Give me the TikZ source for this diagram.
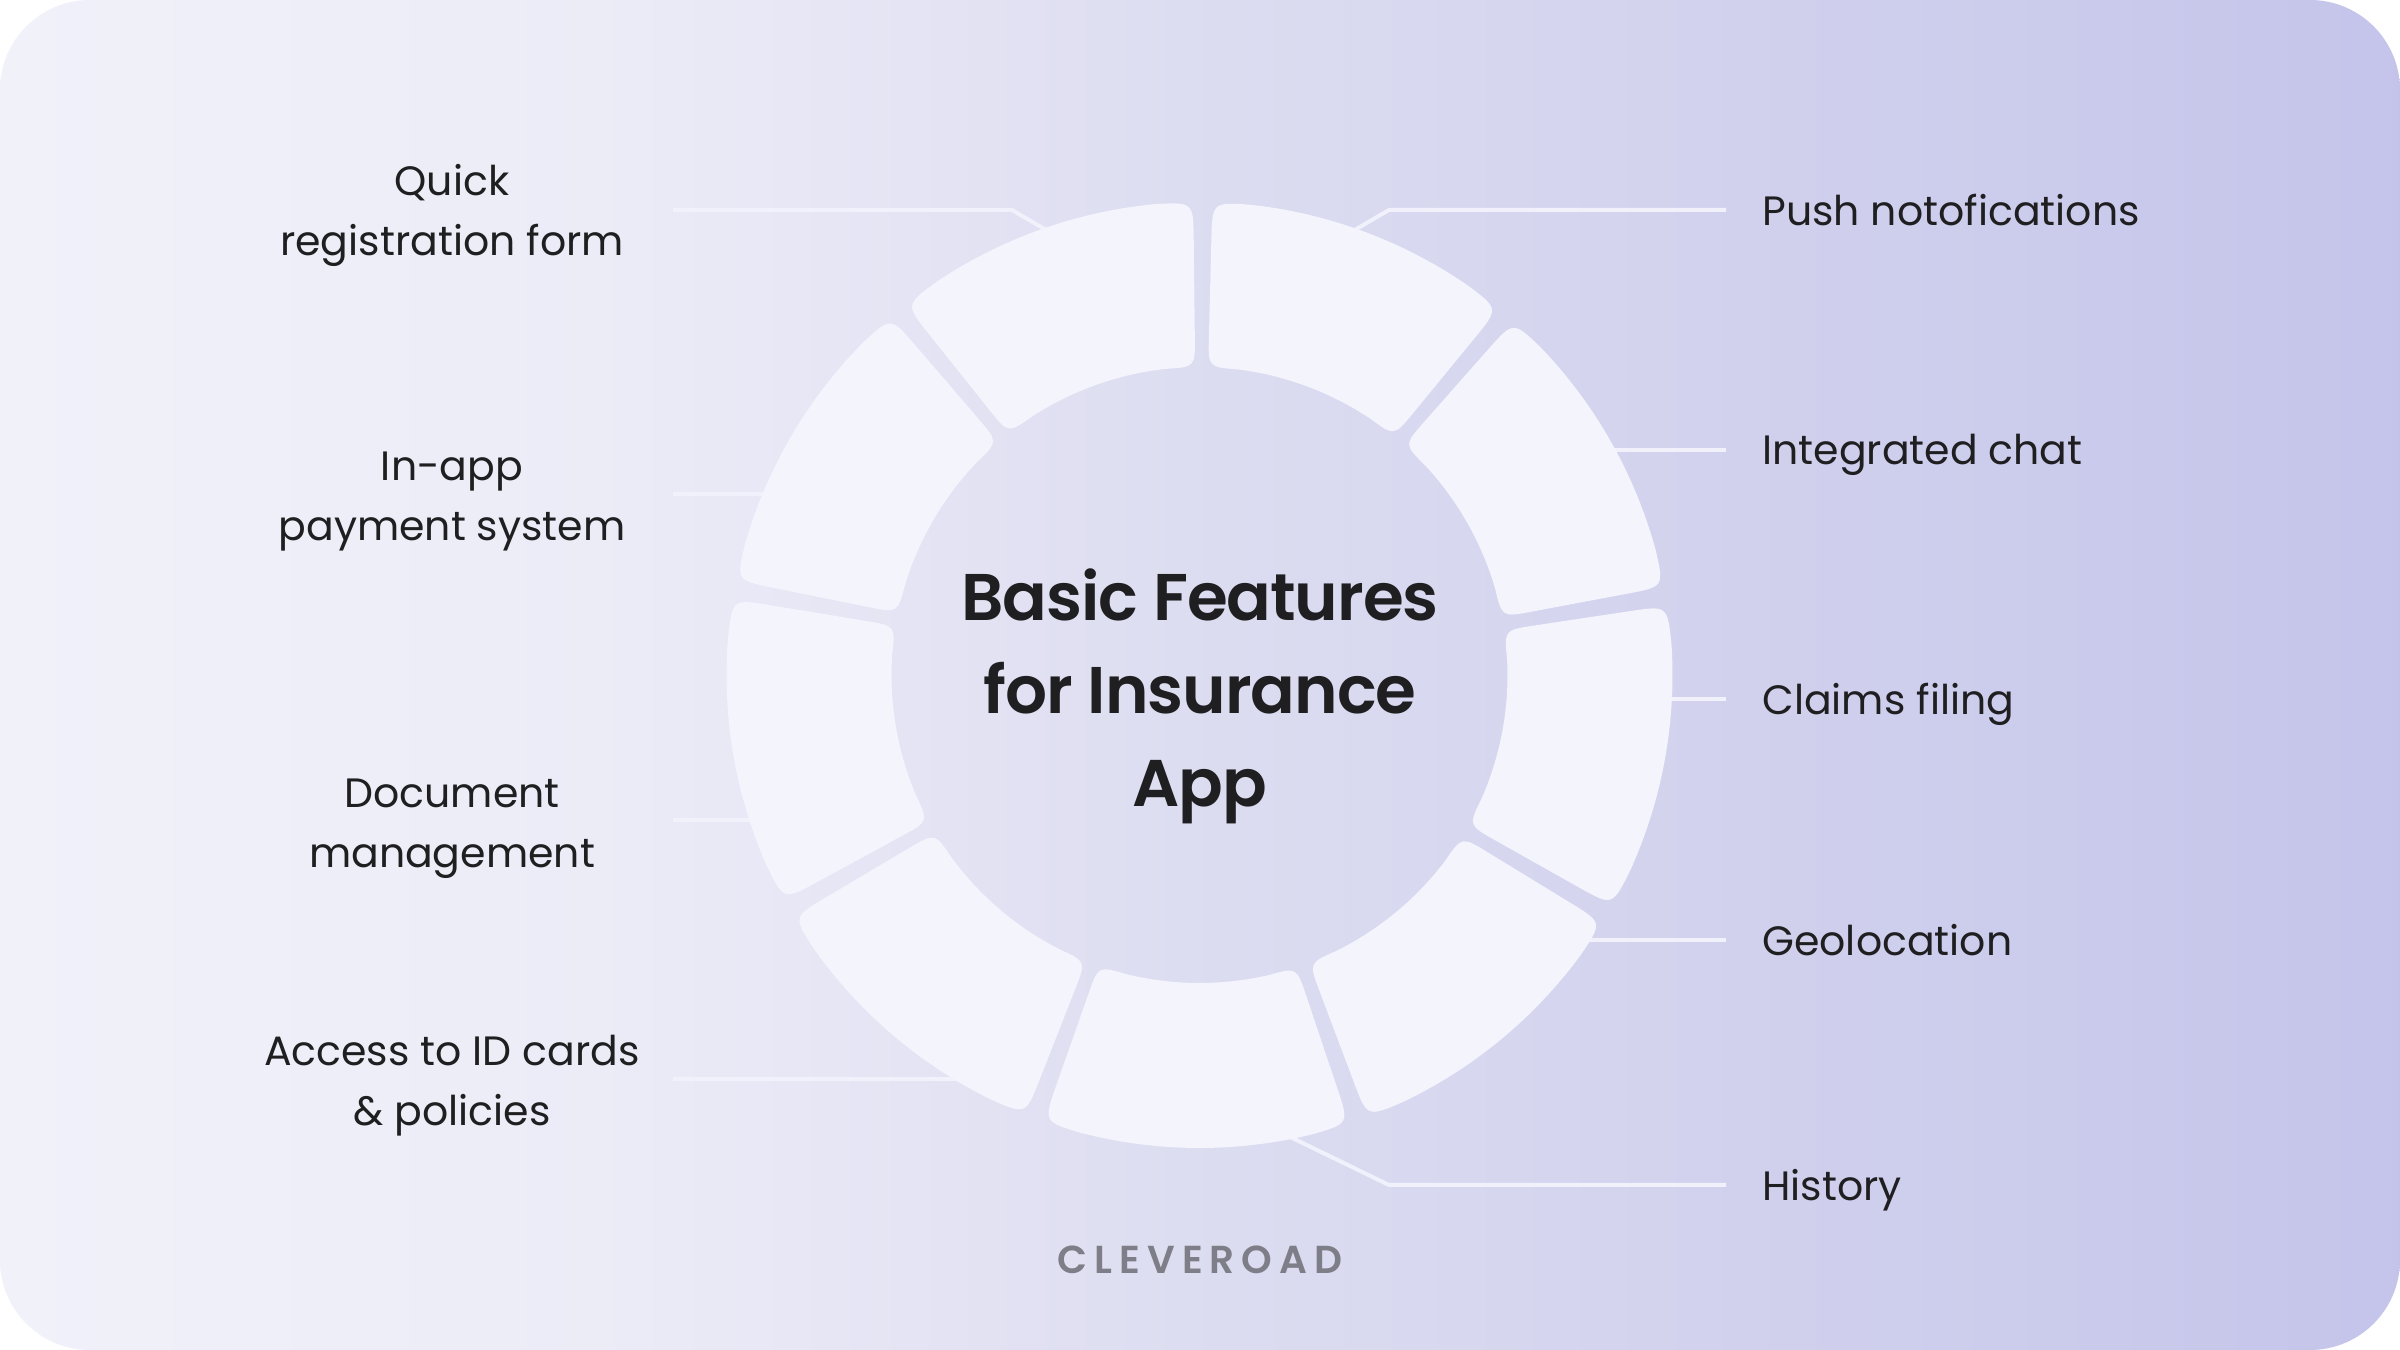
\documentclass[tikz,border=0pt]{standalone}
\usepackage{fontspec}
\setmainfont{Poppins}
\newfontfamily\titlefont[LetterSpace=-1.6]{Poppins SemiBold}
\newfontfamily\brandfont[LetterSpace=18]{Poppins SemiBold}
\definecolor{ink}{HTML}{1F1F21}
\definecolor{petal}{HTML}{F3F4FC}
\definecolor{wire}{HTML}{F0F1FB}
\definecolor{brandgrey}{HTML}{7E7E88}
\pgfdeclarehorizontalshading{panelshade}{100bp}{
  rgb(0bp)=(0.945,0.945,0.98);
  rgb(25bp)=(0.945,0.945,0.98);
  rgb(37.5bp)=(0.925,0.925,0.97);
  rgb(50bp)=(0.865,0.865,0.945);
  rgb(62.5bp)=(0.815,0.815,0.93);
  rgb(75bp)=(0.77,0.77,0.92);
  rgb(100bp)=(0.77,0.77,0.92)
}
\tikzset{
  x=0.5pt,y=0.5pt,
  panel/.style={rounded corners=45pt,shading=panelshade},
  wireline/.style={draw=wire,line width=2pt,line join=round},
  rlabel/.style={anchor=west,text=ink,inner sep=0pt,font=\fontsize{20.5}{30}\selectfont},
  llabel/.style={anchor=center,align=center,text=ink,inner sep=0pt,font=\fontsize{20.5}{30}\selectfont},
  maintitle/.style={anchor=center,align=center,text=ink,inner sep=0pt,font=\titlefont\fontsize{33}{46.5}\selectfont},
  brand/.style={anchor=center,text=brandgrey,inner sep=0pt,font=\brandfont\fontsize{19.5}{24}\selectfont},
}
\begin{document}
\begin{tikzpicture}
\useasboundingbox (0,0) rectangle (2400,1350);
\path[fill=white] (0,0) rectangle (2400,1350);
\path[panel] (0,0) rectangle (2400,1350);

% connector ends
\coordinate (qa) at (673,1140);
\coordinate (qb) at (1012,1140);
\coordinate (qc) at (1060,1112);
\coordinate (pa) at (1726,1140);
\coordinate (pb) at (1389,1140);
\coordinate (pc) at (1341,1112);
\coordinate (ia) at (1726,900);
\coordinate (ib) at (1600,900);
\coordinate (ya) at (673,856);
\coordinate (yb) at (790,856);
\coordinate (ca) at (1726,651);
\coordinate (cb) at (1650,651);
\coordinate (da) at (673,529.5);
\coordinate (db) at (770,529.5);
\coordinate (ga) at (1726,410);
\coordinate (gb) at (1570,410);
\coordinate (aa) at (673,270.5);
\coordinate (ab) at (970,270.5);
\coordinate (ha) at (1726,165);
\coordinate (hb) at (1389,165);
\coordinate (hc) at (1280,218);

\draw[wireline] (qa) -- (qb) -- (qc);
\draw[wireline] (pa) -- (pb) -- (pc);
\draw[wireline] (ia) -- (ib);
\draw[wireline] (ya) -- (yb);
\draw[wireline] (ca) -- (cb);
\draw[wireline] (da) -- (db);
\draw[wireline] (ga) -- (gb);
\draw[wireline] (aa) -- (ab);
\draw[wireline] (ha) -- (hb) -- (hc);

% ring
\begin{scope}[shift={(1199.5,675)}]
\def\myro{473}\def\myri{308}\def\myhgo{9.5}\def\myhgi{6.5}\def\myrco{38}\def\myrci{30}
\foreach \k in {0,...,8}{
  \pgfmathsetmacro\myhi{90-0.4-40*\k}
  \pgfmathsetmacro\mylo{\myhi-40}
  \pgfmathsetmacro\myrom{\myro-\myrco}
  \pgfmathsetmacro\myrip{\myri+\myrci}
  \pgfmathsetmacro\myhem{\myhgi+(\myhgo-\myhgi)*(\myrom-\myri)/(\myro-\myri)}
  \pgfmathsetmacro\myhep{\myhgi+(\myhgo-\myhgi)*(\myrip-\myri)/(\myro-\myri)}
  \pgfmathsetmacro\mydo{asin(\myhgo/\myro)}
  \pgfmathsetmacro\mydi{asin(\myhgi/\myri)}
  \pgfmathsetmacro\myeo{asin(\myhem/\myrom)}
  \pgfmathsetmacro\myei{asin(\myhep/\myrip)}
  \pgfmathsetmacro\myfo{\myrco/\myro*57.296}
  \pgfmathsetmacro\myfi{\myrci/\myri*57.296}
  \pgfmathsetmacro\myoA{\mylo+\mydo+\myfo}
  \pgfmathsetmacro\myoB{\myhi-\mydo-\myfo}
  \pgfmathsetmacro\myiA{\myhi-\mydi-\myfi}
  \pgfmathsetmacro\myiB{\mylo+\mydi+\myfi}
  \path[fill=petal]
    (\mylo+\myeo:\myrom) .. controls (\mylo+\mydo:\myro) .. (\myoA:\myro)
    arc[start angle=\myoA,end angle=\myoB,radius=\myro]
    .. controls (\myhi-\mydo:\myro) .. (\myhi-\myeo:\myrom)
    -- (\myhi-\myei:\myrip)
    .. controls (\myhi-\mydi:\myri) .. (\myiA:\myri)
    arc[start angle=\myiA,end angle=\myiB,radius=\myri]
    .. controls (\mylo+\mydi:\myri) .. (\mylo+\myei:\myrip)
    -- cycle;
}
\end{scope}

% labels
\node[llabel] (quick) at (452,1134.5) {Quick\\registration form};
\node[llabel] (inapp) at (452,848) {In-app\\payment system};
\node[llabel] (docs) at (452,521.5) {Document\\management};
\node[llabel] (idc) at (452,264.5) {Access to ID cards\\\& policies};
\node[rlabel] (push) at (1762,1140) {Push notofications};
\node[rlabel] (chat) at (1762,895.5) {Integrated chat};
\node[rlabel] (claims) at (1762,646) {Claims filing};
\node[rlabel] (geo) at (1762,410) {Geolocation};
\node[rlabel] (hist) at (1762,159.5) {History};
\node[maintitle] (title) at (1200,654) {Basic Features\\for Insurance\\App};
\node[brand] (logo) at (1200,90) {CLEVEROAD};
\end{tikzpicture}
\end{document}
